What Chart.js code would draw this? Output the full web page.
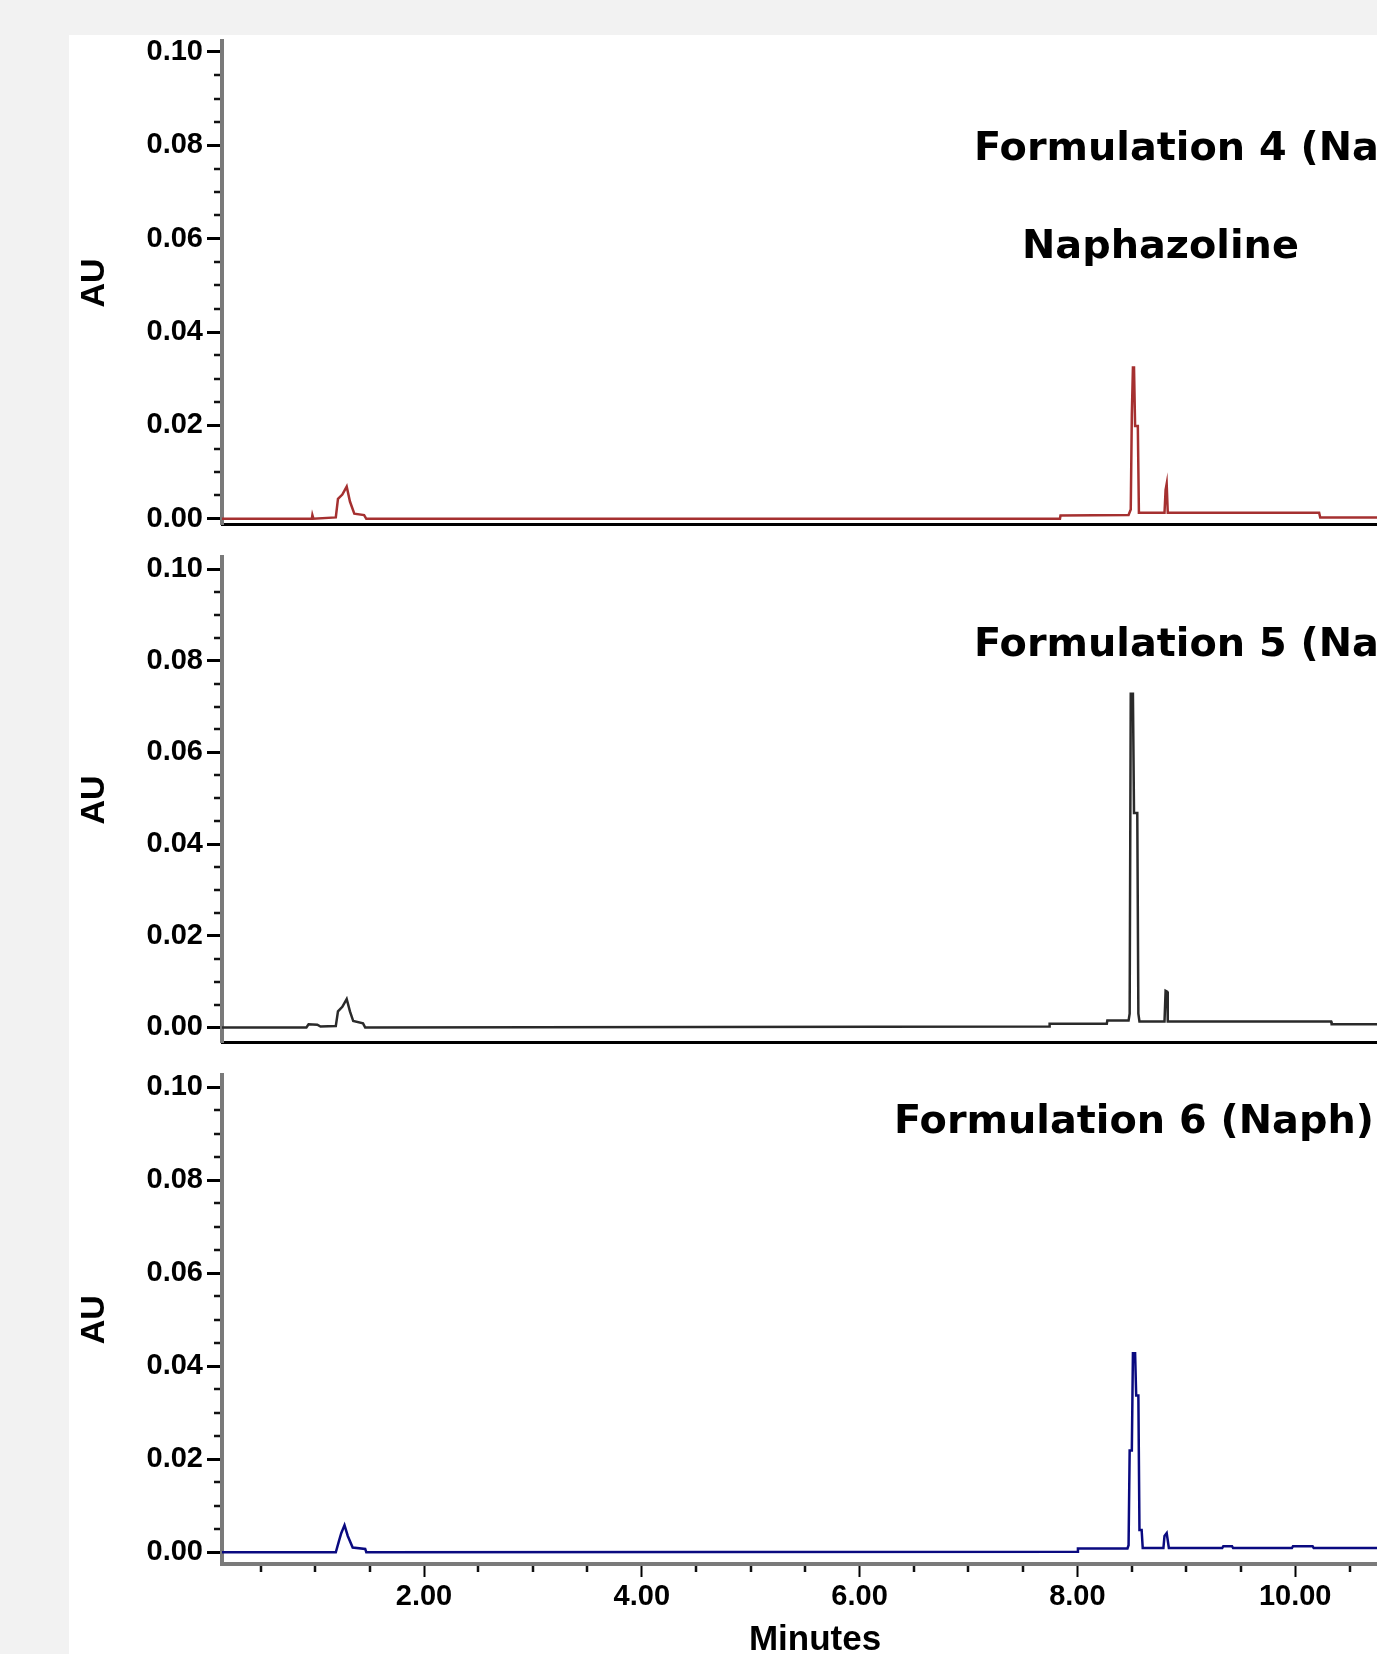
<!DOCTYPE html>
<html>
<head>
<meta charset="utf-8">
<title>Formulations 4-6 (Naph)</title>
<script src="https://cdn.jsdelivr.net/npm/chart.js@4.4.1/dist/chart.umd.min.js"></script>
<style>
  html, body { margin:0; padding:0; width:1377px; height:1654px; overflow:hidden; background:#f2f2f2; }
  #card { position:absolute; left:69px; top:35px; width:1400px; height:1700px; background:#fff; }
  canvas { position:absolute; left:69px; }
  .ttl { position:absolute; font-family:"DejaVu Sans", sans-serif; font-weight:bold; font-size:39.8px; line-height:39px; white-space:nowrap; color:#000; }
</style>
</head>
<body>
<div id="card"></div>
<canvas id="c1" width="1379" height="526" style="top:20px"></canvas>
<canvas id="c2" width="1379" height="528" style="top:536px"></canvas>
<canvas id="c3" width="1379" height="620" style="top:1054px"></canvas>
<div class="ttl" style="left:974px;top:127px">Formulation 4 (Naph)</div>
<div class="ttl" style="left:1022px;top:225px">Naphazoline</div>
<div class="ttl" style="left:974px;top:623px">Formulation 5 (Naph)</div>
<div class="ttl" style="left:894px;top:1100px">Formulation 6 (Naph)</div>

<script>
/* ═══════════════════════════════════
   DATA
═══════════════════════════════════ */
var X_TICKS = [2, 4, 6, 8, 10];
var Y_TICKS = [0, 0.02, 0.04, 0.06, 0.08, 0.10];
var X_MIN = 0.145, X_MAX = 11.036;

// Formulation 4 (red)
var F4_TIME = [0.14, 0.97, 0.975, 0.985, 1.19, 1.21, 1.25, 1.29, 1.32, 1.36, 1.45, 1.47, 7.84, 7.845, 8.47, 8.49, 8.50, 8.51, 8.52, 8.53, 8.555, 8.565, 8.80, 8.81, 8.82, 8.83, 10.22, 10.23, 11.05];
var F4_AU   = [0, 0, 0.0008, 0, 0.0003, 0.0043, 0.0052, 0.0069, 0.0037, 0.0011, 0.0008, 0, 0, 0.0007, 0.0008, 0.0020, 0.0224, 0.0324, 0.0324, 0.0199, 0.0199, 0.0013, 0.0013, 0.0062, 0.0075, 0.0013, 0.0013, 0.0003, 0.0003];

// Formulation 5 (black)
var F5_TIME = [0.14, 0.92, 0.94, 1.02, 1.05, 1.19, 1.21, 1.25, 1.29, 1.32, 1.35, 1.44, 1.46, 7.74, 7.745, 8.27, 8.275, 8.47, 8.48, 8.49, 8.51, 8.52, 8.55, 8.56, 8.57, 8.80, 8.81, 8.825, 8.83, 10.33, 10.335, 11.05];
var F5_AU   = [0, 0, 0.0007, 0.0006, 0.0002, 0.0003, 0.0035, 0.0045, 0.0062, 0.0035, 0.0014, 0.0009, 0, 0.0002, 0.0008, 0.0008, 0.0015, 0.0015, 0.003, 0.0728, 0.0728, 0.0468, 0.0468, 0.003, 0.0013, 0.0013, 0.008, 0.0078, 0.0013, 0.0013, 0.0007, 0.0007];

// Formulation 6 (navy)
var F6_TIME = [0.14, 1.19, 1.22, 1.24, 1.27, 1.30, 1.345, 1.46, 1.47, 8.00, 8.005, 8.46, 8.47, 8.48, 8.50, 8.51, 8.53, 8.54, 8.56, 8.57, 8.59, 8.60, 8.79, 8.80, 8.82, 8.84, 9.33, 9.34, 9.42, 9.43, 9.97, 9.98, 10.16, 10.17, 11.05];
var F6_AU   = [0, 0, 0.0025, 0.0041, 0.0058, 0.0035, 0.001, 0.0007, 0, 0.0001, 0.0008, 0.0008, 0.0015, 0.0219, 0.0219, 0.0428, 0.0428, 0.0337, 0.0337, 0.0048, 0.0048, 0.0009, 0.0009, 0.0035, 0.0041, 0.0009, 0.0009, 0.0013, 0.0013, 0.0009, 0.0009, 0.0013, 0.0013, 0.0009, 0.0009];

var TICK_FONT = '"Liberation Sans", Arial, sans-serif';

/* ═══════════════════════════════════
   MINOR TICKS (0.005 AU / 0.5 min)
═══════════════════════════════════ */
var minorTicks = {
  id:'minorTicks',
  afterDraw: function(chart, args, opts){
    var ctx = chart.ctx, xs = chart.scales.x, ys = chart.scales.y, a = chart.chartArea;
    ctx.save();
    ctx.strokeStyle = '#111';
    ctx.lineWidth = 2.5;
    ctx.beginPath();
    for(var i=1;i<20;i++){
      if(i%4===0) continue;
      var py = Math.round(ys.getPixelForValue(i*0.005));
      ctx.moveTo(a.left-8, py); ctx.lineTo(a.left-2, py);
    }
    if(opts.x){
      for(var j=1;j<=22;j++){
        if(j%4===0) continue;
        var v = j*0.5;
        if(v<X_MIN || v>X_MAX) continue;
        var px = Math.round(xs.getPixelForValue(v));
        ctx.moveTo(px, a.bottom+2); ctx.lineTo(px, a.bottom+8);
      }
    }
    ctx.stroke();
    ctx.restore();
  }
};

/* ═══════════════════════════════════
   PANELS
═══════════════════════════════════ */
var PANELS = [
  {id:'c1', time:F4_TIME, au:F4_AU, color:'#a53030', yMin:-0.00124, yMax:0.10226, showX:false, xHeight:0,   padBottom:20},
  {id:'c2', time:F5_TIME, au:F5_AU, color:'#2a2a2a', yMin:-0.0033,  yMax:0.10254, showX:false, xHeight:0,   padBottom:20},
  {id:'c3', time:F6_TIME, au:F6_AU, color:'#0a0a80', yMin:-0.00253, yMax:0.10253, showX:true,  xHeight:110, padBottom:0}
];

function buildPanel(p){
  var ctx = document.getElementById(p.id);
  var pts = p.time.map(function(t,i){ return {x:t, y:p.au[i]}; });
  return new Chart(ctx, {
    type:'line',
    data:{datasets:[{data:pts, borderColor:p.color, borderWidth:2.5, pointRadius:0, tension:0, fill:false}]},
    options:{
      responsive:false, animation:false, devicePixelRatio:1,
      layout:{padding:{left:0, right:40, top:20, bottom:p.padBottom}},
      plugins:{legend:{display:false}, tooltip:{enabled:false}, minorTicks:{x:p.showX}},
      scales:{
        x:{
          type:'linear', min:X_MIN, max:X_MAX,
          afterFit:function(s){ s.height = p.xHeight; },
          afterBuildTicks:function(s){ s.ticks = X_TICKS.map(function(v){ return {value:v}; }); },
          border:{color:p.showX?'#7a7a7a':'#000', width:p.showX?4:3},
          grid:{display:p.showX, drawOnChartArea:false, drawTicks:true, tickLength:13, tickColor:'#000', tickWidth:2},
          ticks:{display:p.showX, autoSkip:false, maxRotation:0, padding:3, color:'#000',
                 font:{family:TICK_FONT, size:29, weight:'bold'},
                 callback:function(v){ return v.toFixed(2); }},
          title:{display:p.showX, text:'Minutes', color:'#000',
                 font:{family:TICK_FONT, size:35, weight:'bold'}, padding:{top:0, bottom:13}}
        },
        y:{
          min:p.yMin, max:p.yMax,
          afterFit:function(s){ s.width = 153; },
          afterBuildTicks:function(s){ s.ticks = Y_TICKS.map(function(v){ return {value:v}; }); },
          border:{color:'#7a7a7a', width:4},
          grid:{drawOnChartArea:false, tickLength:15, tickColor:'#000', tickWidth:3},
          ticks:{padding:4, color:'#000', autoSkip:false,
                 font:{family:TICK_FONT, size:29, weight:'bold'},
                 callback:function(v){ return v.toFixed(2); }},
          title:{display:true, text:'AU', color:'#000',
                 font:{family:TICK_FONT, size:34, weight:'bold'}, padding:{top:5, bottom:0}}
        }
      }
    },
    plugins:[minorTicks]
  });
}

PANELS.forEach(buildPanel);
</script>
</body>
</html>
